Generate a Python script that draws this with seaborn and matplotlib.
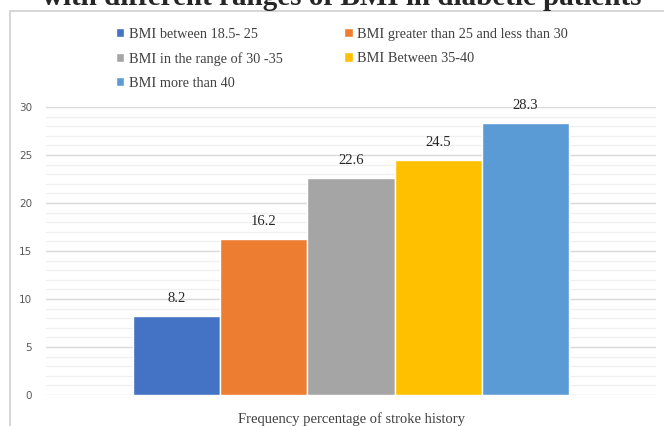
import numpy as np
import pandas as pd
import matplotlib
matplotlib.use('Agg')
import matplotlib.pyplot as plt
from matplotlib.patches import Rectangle
import seaborn as sns

# chart data
categories = ['BMI between 18.5- 25', 'BMI greater than 25 and less than 30',
              'BMI in the range of 30 -35', 'BMI Between 35-40', 'BMI more than 40']
values = [8.2, 16.2, 22.6, 24.5, 28.3]
group = 'Frequency percentage of stroke history'
colors = ['#4472C4', '#ED7D31', '#A5A5A5', '#FFC000', '#5B9BD5']
title = 'with different ranges of BMI in diabetic patients'

df = pd.DataFrame({'x': [group] * len(values), 'value': values, 'BMI': categories})

sns.set_style('white')
plt.rcParams['font.family'] = ['DejaVu Sans']

fig = plt.figure(figsize=(6.64, 4.26), dpi=100)
ax = fig.add_axes([46 / 664, 1 - 395 / 426, 610 / 664, (395 - 107) / 426])

sns.barplot(data=df, x='x', y='value', hue='BMI', hue_order=categories,
            palette=colors, width=0.715, saturation=1, ax=ax)

ax.set_ylim(0, 30)
ax.set_xlim(-0.5, 0.5)
ax.set_yticks(range(0, 31, 5))
ax.set_yticks(range(0, 31, 1), minor=True)
ax.grid(axis='y', which='major', color='#d9d9d9', lw=1)
ax.grid(axis='y', which='minor', color='#f0f0f0', lw=1)
ax.set_axisbelow(True)
for s in ax.spines.values():
    s.set_visible(False)
ax.tick_params(axis='y', which='both', length=0, labelsize=7.5, labelcolor='#595959', pad=10)
ax.tick_params(axis='x', length=0)
ax.set_xticklabels([])
ax.set_ylabel('')
ax.set_xlabel(group, family='Liberation Serif', fontsize=10.5, color='#404040', labelpad=9)

for c in ax.containers:
    ax.bar_label(c, fmt='%.1f', padding=8, family='Liberation Serif', fontsize=10.5, color='#262626')

handles, labels = ax.get_legend_handles_labels()
ax.get_legend().remove()
order = [0, 2, 4, 1, 3]
fig.legend([handles[i] for i in order], [labels[i] for i in order], ncol=2,
           loc='upper left', bbox_to_anchor=(103 / 664, 1 - 15 / 426),
           frameon=False, handlelength=0.6, handleheight=0.6, handletextpad=0.3,
           columnspacing=4.3, labelspacing=0.78,
           prop={'family': 'Liberation Serif', 'size': 10.3}, labelcolor='#404040')

# outer chart frame
fig.patches.append(Rectangle((10 / 664, -0.1), 1.2, 1.1 - 11 / 426, transform=fig.transFigure,
                             fill=False, edgecolor='#d0d0d0', lw=1.2))

fig.text(342 / 664, 1 - 5 / 426, title, ha='center', va='baseline', family='Liberation Serif',
         fontweight='bold', fontsize=21)

fig.savefig('out.png', dpi=100)
